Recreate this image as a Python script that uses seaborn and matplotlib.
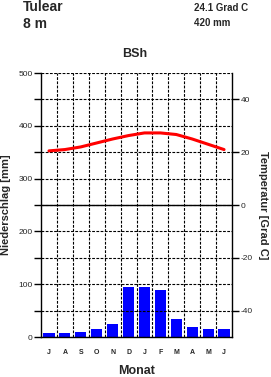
import numpy as np
import pandas as pd
import matplotlib
matplotlib.use("Agg")
import matplotlib.pyplot as plt
import seaborn as sns

months = ["J", "A", "S", "O", "N", "D", "J", "F", "M", "A", "M", "J"]
precip_mm = [7, 7, 9, 15, 24, 95, 95, 89, 35, 18, 16, 15]
temp_c = [20.5, 21.0, 22.0, 23.5, 25.0, 26.3, 27.3, 27.3, 26.7, 25.0, 23.0, 21.0]
left_ticks = [0, 100, 200, 300, 400, 500]
right_ticks = [-40, -20, 0, 20, 40]
station = "Tulear"
elevation = "8 m"
mean_temp = "24.1 Grad C"
annual_precip = "420 mm"
climate_class = "BSh"

sns.set_theme(style="white")
plt.rcParams["font.family"] = ["Liberation Sans", "DejaVu Sans"]

df = pd.DataFrame({"idx": list(range(12)), "mm": precip_mm, "t": temp_c})

fig = plt.figure(figsize=(2.71, 3.77), dpi=100)
ax = fig.add_axes([41 / 271, 1 - 337 / 377, 191 / 271, 264 / 377])

sns.barplot(data=df, x="idx", y="mm", color="#0000ff", saturation=1, width=0.7,
            ax=ax, zorder=1, edgecolor="none")
ax.set_xlim(-0.5, 11.5)
ax.set_ylim(0, 500)
ax.set_yticks(left_ticks)
ax.set_yticks(np.arange(50, 500, 100), minor=True)
ax.set_yticklabels([str(v) for v in left_ticks], fontsize=6)
ax.set_xticks(range(12))
ax.set_xticklabels(months, fontsize=5, fontweight="bold")
ax.set_xticks(np.arange(0.5, 11.5, 1.0), minor=True)
ax.tick_params(axis="x", which="both", length=0, pad=9)
ax.tick_params(axis="y", which="both", direction="out", length=5, width=1,
               color="black", left=True, pad=1)
ax.set_axisbelow(False)
ax.grid(True, which="both", axis="both", color="black", linestyle=(0, (2.5, 1.3)),
        linewidth=0.8)
ax.grid(False, which="major", axis="x")
ax.axhline(250, color="black", linewidth=1, zorder=3)
ax.set_xlabel("Monat", fontsize=9, fontweight="bold", labelpad=6)
ax.set_ylabel("Niederschlag [mm]", fontsize=8, fontweight="bold", labelpad=5)
for s in ["left", "bottom", "right"]:
    ax.spines[s].set_visible(True)
    ax.spines[s].set_color("black")
    ax.spines[s].set_linewidth(1)
ax.spines["top"].set_visible(False)

ax2 = ax.twinx()
sns.lineplot(data=df, x="idx", y="t", color="#ff0000", linewidth=2.2, ax=ax2)
ax2.set_ylim(-50, 50)
ax2.set_xlim(-0.5, 11.5)
ax2.set_yticks(right_ticks)
ax2.set_yticklabels([str(v) for v in right_ticks], fontsize=6)
ax2.tick_params(axis="y", direction="out", length=5, width=1, color="black",
                right=True, pad=1)
ax2.set_ylabel("Temperatur [Grad C]", fontsize=8, fontweight="bold",
               rotation=-90, labelpad=11)
ax2.grid(False)
for s in ["left", "bottom", "right", "top"]:
    ax2.spines[s].set_visible(False)

fig.text(23 / 271, 1 - 7 / 377, station, fontsize=10, fontweight="bold",
         ha="left", va="center")
fig.text(23 / 271, 1 - 24 / 377, elevation, fontsize=10, fontweight="bold",
         ha="left", va="center")
fig.text(194 / 271, 1 - 8 / 377, mean_temp, fontsize=7, fontweight="bold",
         ha="left", va="center")
fig.text(194 / 271, 1 - 23 / 377, annual_precip, fontsize=7, fontweight="bold",
         ha="left", va="center")
fig.text(135 / 271, 1 - 54 / 377, climate_class, fontsize=9, fontweight="bold",
         ha="center", va="center")

fig.savefig("out.png", dpi=100, facecolor="white")
